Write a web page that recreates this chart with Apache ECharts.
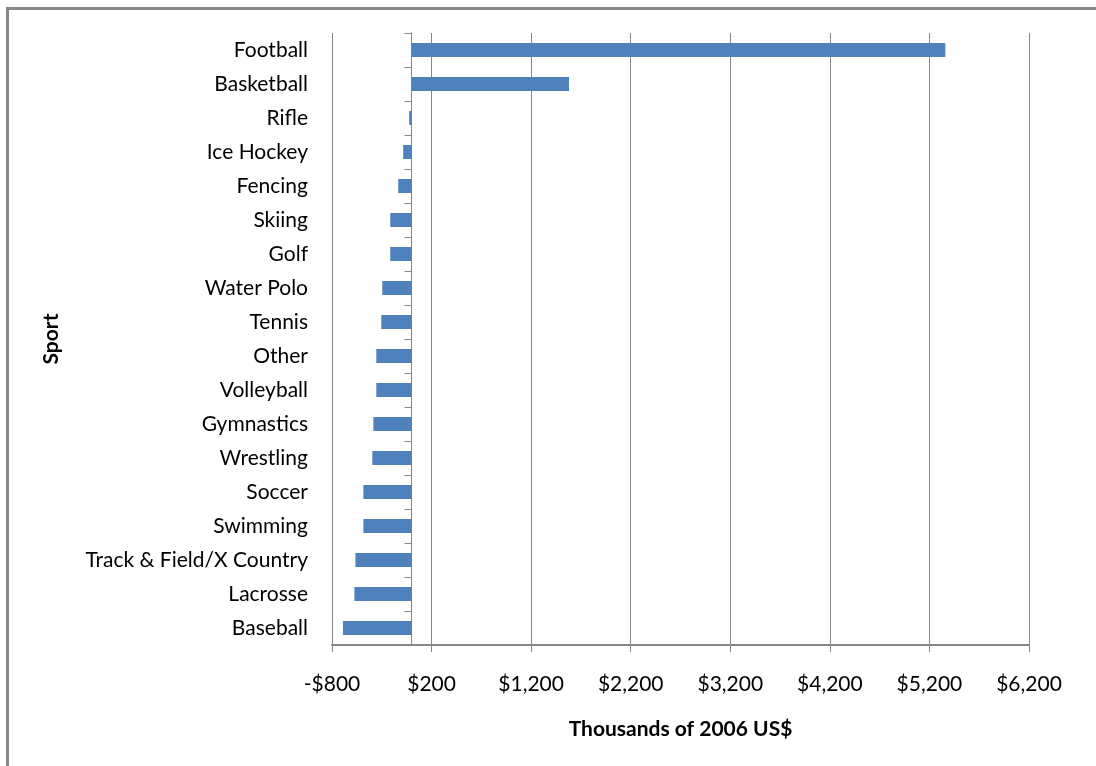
<!DOCTYPE html>
<html>
<head>
<meta charset="utf-8">
<script src="https://cdn.jsdelivr.net/npm/echarts@6/dist/echarts.min.js"></script>
<style>
html,body{margin:0;padding:0;background:#fff;}
#chart{width:1096px;height:766px;}
</style>
</head>
<body>
<div id="chart"></div>
<script>
const sports = ["Football","Basketball","Rifle","Ice Hockey","Fencing","Skiing","Golf","Water Polo","Tennis","Other","Volleyball","Gymnastics","Wrestling","Soccer","Swimming","Track & Field/X Country","Lacrosse","Baseball"];
const values = [5360,1580,-25,-85,-135,-215,-215,-295,-305,-355,-355,-385,-395,-485,-485,-565,-575,-690];
const xTicks = [-800,200,1200,2200,3200,4200,5200,6200];
const xTitle = "Thousands of 2006 US$";
const yTitle = "Sport";

const FONT = "Lato";
const chart = echarts.init(document.getElementById('chart'), null, {renderer:'canvas'});
function money(v){
  const s = Math.abs(v).toLocaleString('en-US');
  return (v<0?'-$':'$') + s;
}
chart.setOption({
  animation:false,
  backgroundColor:'#ffffff',
  textStyle:{fontFamily:FONT},
  graphic:[{type:'rect',shape:{x:7.5,y:8.5,width:1200,height:900},style:{fill:'none',stroke:'#878787',lineWidth:3},silent:true}],
  grid:{left:332,right:67,top:33,bottom:121,containLabel:false,outerBoundsMode:'none'},
  xAxis:{
    type:'value', min:xTicks[0], max:xTicks[xTicks.length-1],
    name:xTitle, nameLocation:'middle', nameGap:74,
    nameTextStyle:{fontFamily:FONT,fontSize:21,fontWeight:'bold',color:'#000'},
    axisLine:{show:true,lineStyle:{color:'#868686',width:2}},
    axisTick:{show:true,length:7,lineStyle:{color:'#868686',width:1},customValues:xTicks},
    axisLabel:{customValues:xTicks,formatter:money,fontFamily:FONT,fontSize:21,color:'#000',margin:29},
    splitLine:{show:true,lineStyle:{color:'#868686',width:1}}
  },
  yAxis:{
    type:'category', data:sports, inverse:true,
    name:yTitle, nameLocation:'middle', nameGap:270, nameRotate:90,
    nameTextStyle:{fontFamily:FONT,fontSize:21,fontWeight:'bold',color:'#000'},
    axisLine:{show:true,onZero:true,lineStyle:{color:'#868686',width:1}},
    axisTick:{show:true,length:7,alignWithLabel:false,lineStyle:{color:'#868686',width:1}},
    axisLabel:{fontFamily:FONT,fontSize:21,color:'#000',margin:24},
    splitLine:{show:false}
  },
  series:[{
    type:'bar', data:values, barWidth:14,
    itemStyle:{color:'#4F81BD'}
  }]
});
</script>
</body>
</html>
